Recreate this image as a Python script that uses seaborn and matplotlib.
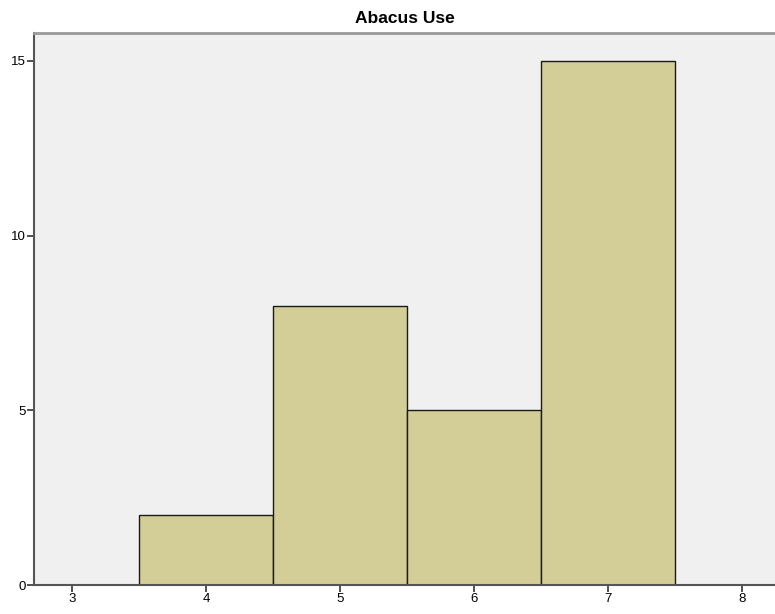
import numpy as np
import pandas as pd
import seaborn as sns
import matplotlib.pyplot as plt

sns.set_style("white")
plt.rcParams['font.family'] = ['Liberation Sans', 'DejaVu Sans']

# Abacus use scores and their frequencies
scores = [4, 5, 6, 7]
counts = [2, 8, 5, 15]
xticks = [3, 4, 5, 6, 7, 8]
yticks = [0, 5, 10, 15]

df = pd.DataFrame({"score": scores, "count": counts})

fig = plt.figure(figsize=(7.75, 6.14), dpi=100)
ax = fig.add_axes([34 / 775, 29 / 614, 742 / 775, 552 / 614])
ax.set_facecolor("#f0f0f0")

sns.histplot(data=df, x="score", weights="count", discrete=True, ax=ax,
             color="#d3ce98", alpha=1, edgecolor="#1a1a1a", linewidth=1)

ax.set_xlim(2.716, 8.254)
ax.set_ylim(0, 15.8)
ax.set_xticks(xticks)
ax.set_yticks(yticks)
ax.set_xlabel("")
ax.set_ylabel("")
ax.tick_params(axis="both", direction="out", length=5, width=1.2,
               color="#333333", labelcolor="black", labelsize=9.5, pad=1,
               bottom=True, left=True)
for side in ["left", "bottom"]:
    ax.spines[side].set_color("#555555")
    ax.spines[side].set_linewidth(1.5)
ax.spines["top"].set_color("#999999")
ax.spines["top"].set_linewidth(2)
ax.spines["right"].set_visible(False)

ax.set_title("Abacus Use", fontsize=12.5, fontweight="bold", color="black", pad=7)

fig.savefig("out.png", dpi=100)
